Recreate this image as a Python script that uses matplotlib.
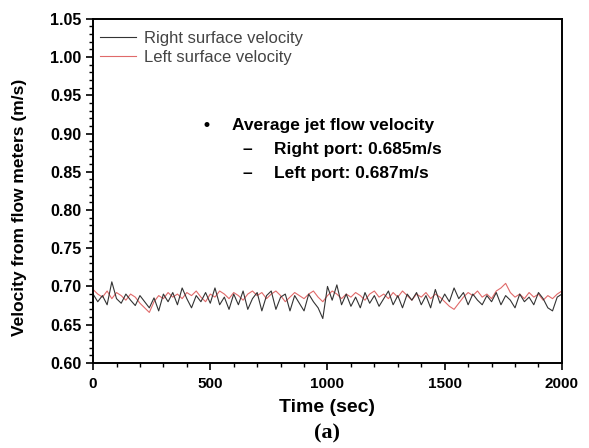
import matplotlib
matplotlib.use("Agg")
import matplotlib.pyplot as plt
from matplotlib.ticker import MultipleLocator

# time axis (sec), 20 s steps
time = list(range(0, 2001, 20))

# right surface velocity (black)
right_v = [0.690, 0.680, 0.688, 0.676, 0.706, 0.684, 0.678, 0.690, 0.682, 0.675,
           0.688, 0.680, 0.672, 0.685, 0.668, 0.690, 0.680, 0.692, 0.676, 0.698,
           0.684, 0.672, 0.688, 0.680, 0.692, 0.678, 0.698, 0.676, 0.686, 0.670,
           0.690, 0.676, 0.694, 0.670, 0.684, 0.692, 0.668, 0.688, 0.694, 0.670,
           0.686, 0.690, 0.668, 0.688, 0.678, 0.668, 0.690, 0.680, 0.672, 0.658,
           0.700, 0.682, 0.702, 0.676, 0.690, 0.674, 0.686, 0.672, 0.692, 0.678,
           0.688, 0.674, 0.684, 0.694, 0.676, 0.688, 0.672, 0.690, 0.682, 0.692,
           0.676, 0.688, 0.672, 0.696, 0.678, 0.690, 0.680, 0.698, 0.684, 0.692,
           0.676, 0.690, 0.682, 0.676, 0.688, 0.680, 0.692, 0.676, 0.688, 0.682,
           0.672, 0.690, 0.680, 0.686, 0.676, 0.692, 0.684, 0.672, 0.668, 0.686,
           0.690]

# left surface velocity (red)
left_v = [0.696, 0.690, 0.686, 0.694, 0.684, 0.692, 0.688, 0.682, 0.690, 0.686,
          0.678, 0.672, 0.666, 0.680, 0.688, 0.684, 0.692, 0.686, 0.690, 0.684,
          0.692, 0.688, 0.694, 0.686, 0.680, 0.690, 0.686, 0.694, 0.690, 0.684,
          0.692, 0.688, 0.682, 0.690, 0.694, 0.688, 0.692, 0.684, 0.690, 0.694,
          0.688, 0.680, 0.686, 0.692, 0.688, 0.684, 0.690, 0.694, 0.686, 0.680,
          0.688, 0.694, 0.690, 0.684, 0.690, 0.686, 0.692, 0.688, 0.682, 0.690,
          0.694, 0.686, 0.690, 0.684, 0.692, 0.686, 0.694, 0.688, 0.682, 0.690,
          0.686, 0.692, 0.684, 0.690, 0.686, 0.680, 0.674, 0.670, 0.678, 0.686,
          0.692, 0.688, 0.694, 0.686, 0.690, 0.684, 0.694, 0.698, 0.704, 0.692,
          0.686, 0.690, 0.684, 0.692, 0.686, 0.690, 0.682, 0.688, 0.684, 0.690,
          0.694]

plt.rcParams['font.family'] = ['Liberation Sans', 'DejaVu Sans']

fig = plt.figure(figsize=(5.89, 4.48), dpi=100)
ax = fig.add_axes([0.158, 0.190, 0.796, 0.768])

ax.plot(time, left_v, color='#e06a6a', lw=0.8, label='Left surface velocity')
ax.plot(time, right_v, color='#333333', lw=0.8, label='Right surface velocity')

ax.set_xlim(0, 2000)
ax.set_ylim(0.60, 1.05)
ax.xaxis.set_major_locator(MultipleLocator(500))
ax.xaxis.set_minor_locator(MultipleLocator(100))
ax.yaxis.set_major_locator(MultipleLocator(0.05))
ax.yaxis.set_minor_locator(MultipleLocator(0.01))
ax.yaxis.set_major_formatter(plt.FormatStrFormatter('%.2f'))
ax.tick_params(which='major', length=5, width=1.2, labelsize=11.5)
ax.tick_params(axis='x', which='major', labelsize=11, pad=5)
ax.tick_params(which='minor', length=3, width=1.0)
for lbl in ax.get_xticklabels() + ax.get_yticklabels():
    lbl.set_fontweight('bold')
for s in ax.spines.values():
    s.set_linewidth(1.4)

ax.set_xlabel('Time (sec)', fontsize=14, fontweight='bold', labelpad=6)
ax.set_ylabel('Velocity from flow meters (m/s)', fontsize=12.5, fontweight='bold')
ax.yaxis.set_label_coords(-0.14, 0.453)
fig.text(0.555, 0.022, '(a)', fontsize=16, fontweight='bold',
         family='Liberation Serif', ha='center')

# legend: right first, as in the original
h, l = ax.get_legend_handles_labels()
leg = ax.legend(h[::-1], l[::-1], loc='upper left', frameon=False, fontsize=12,
                handlelength=2.2, handletextpad=0.45, borderaxespad=0.0,
                labelspacing=0.25, bbox_to_anchor=(0.0, 0.985))
for t in leg.get_texts():
    t.set_color('#444444')

# annotation block
fs = 12.5
ax.text(486, 0.911, '\u2022', fontsize=fs, fontweight='bold', va='center', ha='center')
ax.text(593, 0.911, 'Average jet flow velocity', fontsize=fs, fontweight='bold', va='center')
ax.text(657, 0.879, '\u2013', fontsize=fs, fontweight='bold', va='center', ha='center')
ax.text(772, 0.879, 'Right port: 0.685m/s', fontsize=fs, fontweight='bold', va='center')
ax.text(657, 0.848, '\u2013', fontsize=fs, fontweight='bold', va='center', ha='center')
ax.text(772, 0.848, 'Left port: 0.687m/s', fontsize=fs, fontweight='bold', va='center')

fig.savefig('out.png', dpi=100)
